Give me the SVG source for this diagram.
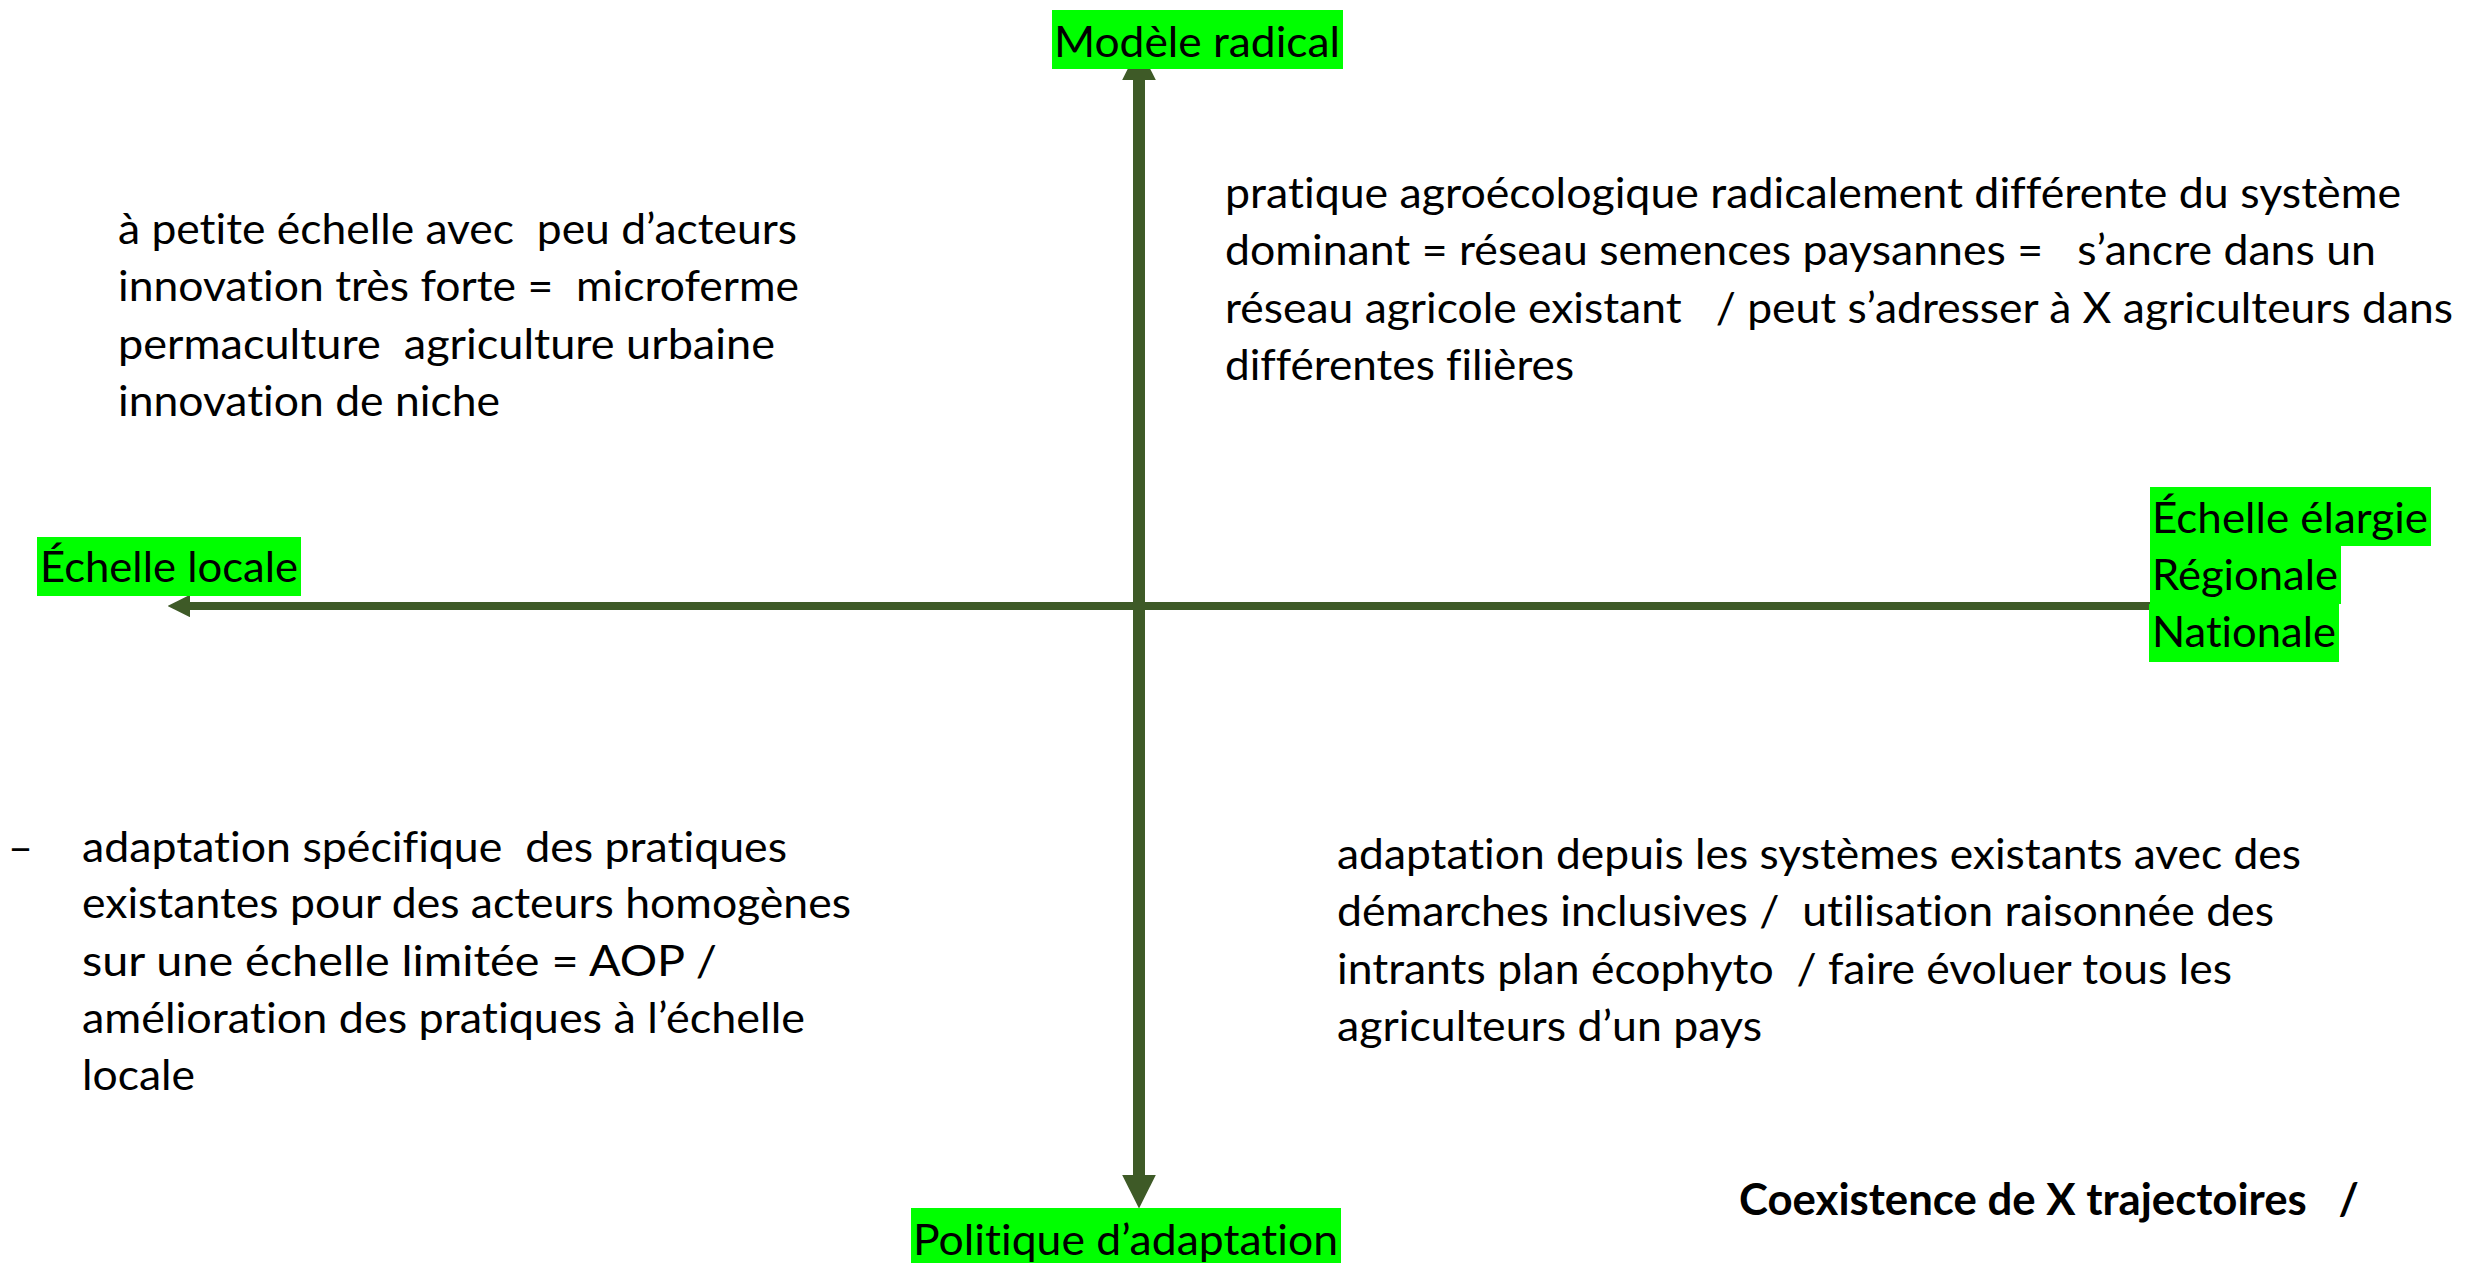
<svg xmlns="http://www.w3.org/2000/svg" width="2466" height="1263" viewBox="0 0 2466 1263">
<style>
.t{font-family:Lato,"Liberation Sans",sans-serif;font-size:43px;fill:#000;white-space:pre;font-variant-ligatures:none;font-feature-settings:"liga" 0,"dlig" 0}
.b{font-weight:bold}
.hl{fill:#00ff00}
.ax{stroke:#3e5a27;fill:none}
</style>
<defs>
<marker id="ah" viewBox="0 -1.4 2.8 2.8" refX="0" refY="0" markerWidth="2.8" markerHeight="2.8" markerUnits="strokeWidth" orient="auto-start-reverse">
<path d="M0,-1.4 L2.8,0 L0,1.4 z" fill="#3e5a27"/>
</marker>
</defs>
<rect width="2466" height="1263" fill="#fff"/>
<g id="connectors">
<path class="ax" d="M1139,80 L1139,1175" stroke-width="12" marker-start="url(#ah)" marker-end="url(#ah)"/>
<path class="ax" d="M2150,606 L190,606" stroke-width="8" marker-end="url(#ah)"/>
</g>
<g id="label-top">
<rect class="hl" x="1052" y="10" width="291" height="59"/>
<text class="t" x="1054" y="57" textLength="286" lengthAdjust="spacingAndGlyphs">Modèle radical</text>
</g>
<g id="label-left">
<rect class="hl" x="37" y="537" width="264" height="59"/>
<text class="t" x="40" y="582" textLength="258" lengthAdjust="spacingAndGlyphs">Échelle locale</text>
</g>
<g id="label-right">
<rect class="hl" x="2150" y="487" width="281" height="59"/>
<rect class="hl" x="2150" y="546" width="191" height="58"/>
<rect class="hl" x="2149" y="604" width="190" height="58"/>
<text class="t" x="2152" y="533" textLength="276" lengthAdjust="spacingAndGlyphs">Échelle élargie</text>
<text class="t" x="2152" y="590" textLength="186" lengthAdjust="spacingAndGlyphs">Régionale</text>
<text class="t" x="2152" y="647" textLength="184" lengthAdjust="spacingAndGlyphs">Nationale</text>
</g>
<g id="label-bottom">
<rect class="hl" x="911" y="1208" width="430" height="60"/>
<text class="t" x="913" y="1255" textLength="425" lengthAdjust="spacingAndGlyphs">Politique d’adaptation</text>
</g>
<g id="quadrant-top-left">
<text class="t" x="118" y="244" textLength="679" lengthAdjust="spacingAndGlyphs">à petite échelle avec  peu d’acteurs</text>
<text class="t" x="118" y="301" textLength="681" lengthAdjust="spacingAndGlyphs">innovation très forte =  microferme</text>
<text class="t" x="118" y="359" textLength="657" lengthAdjust="spacingAndGlyphs">permaculture  agriculture urbaine</text>
<text class="t" x="118" y="416" textLength="382" lengthAdjust="spacingAndGlyphs">innovation de niche</text>
</g>
<g id="quadrant-top-right">
<text class="t" x="1225" y="208" textLength="1176" lengthAdjust="spacingAndGlyphs">pratique agroécologique radicalement différente du système</text>
<text class="t" x="1225" y="265" textLength="1151" lengthAdjust="spacingAndGlyphs">dominant = réseau semences paysannes =   s’ancre dans un</text>
<text class="t" x="1225" y="323" textLength="1228" lengthAdjust="spacingAndGlyphs">réseau agricole existant   / peut s’adresser à X agriculteurs dans</text>
<text class="t" x="1225" y="380" textLength="349" lengthAdjust="spacingAndGlyphs">différentes filières</text>
</g>
<g id="quadrant-bottom-left">
<text class="t" x="8" y="862" textLength="25" lengthAdjust="spacingAndGlyphs">–</text>
<text class="t" x="82" y="862" textLength="705" lengthAdjust="spacingAndGlyphs">adaptation spécifique  des pratiques</text>
<text class="t" x="82" y="918" textLength="769" lengthAdjust="spacingAndGlyphs">existantes pour des acteurs homogènes</text>
<text class="t" x="82" y="976" textLength="635" lengthAdjust="spacingAndGlyphs">sur une échelle limitée = AOP /</text>
<text class="t" x="82" y="1033" textLength="723" lengthAdjust="spacingAndGlyphs">amélioration des pratiques à l’échelle</text>
<text class="t" x="82" y="1090" textLength="113" lengthAdjust="spacingAndGlyphs">locale</text>
</g>
<g id="quadrant-bottom-right">
<text class="t" x="1337" y="869" textLength="964" lengthAdjust="spacingAndGlyphs">adaptation depuis les systèmes existants avec des</text>
<text class="t" x="1337" y="926" textLength="937" lengthAdjust="spacingAndGlyphs">démarches inclusives /  utilisation raisonnée des</text>
<text class="t" x="1337" y="984" textLength="895" lengthAdjust="spacingAndGlyphs">intrants plan écophyto  / faire évoluer tous les</text>
<text class="t" x="1337" y="1041" textLength="425" lengthAdjust="spacingAndGlyphs">agriculteurs d’un pays</text>
</g>
<g id="note">
<text class="t b" x="1739" y="1215" textLength="620" lengthAdjust="spacingAndGlyphs">Coexistence de X trajectoires   /</text>
</g>
</svg>
